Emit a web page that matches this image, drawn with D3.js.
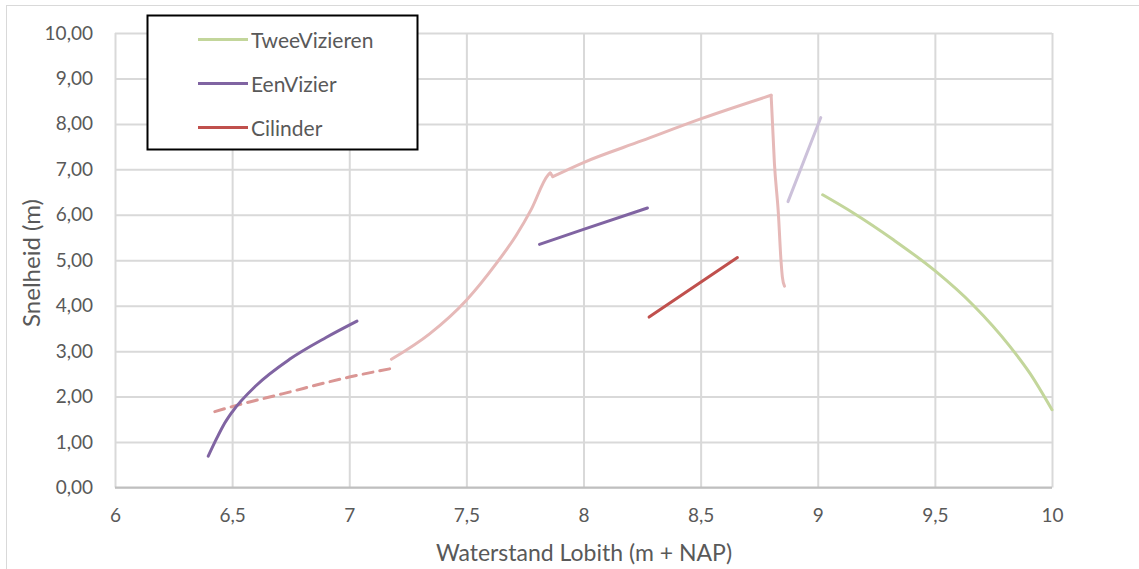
<!DOCTYPE html>
<html>
<head>
<meta charset="utf-8">
<script src="https://cdn.jsdelivr.net/npm/d3@7"></script>
<style>
  body { margin: 0; background: #fff; }
  svg { display: block; }
  text { font-family: Lato, "Open Sans", sans-serif; fill: #595959; }
</style>
</head>
<body>
<svg id="chart" width="1139" height="569"></svg>
<script>
// Axis ticks
const xTicks = [6, 6.5, 7, 7.5, 8, 8.5, 9, 9.5, 10];
const yTicks = [0, 1, 2, 3, 4, 5, 6, 7, 8, 9, 10];

// Series: [waterstand, snelheid]
const tweeVizieren = [
  [9.021, 6.44], [9.152, 6.04], [9.323, 5.45], [9.50, 4.77],
  [9.664, 4.01], [9.821, 3.10], [9.906, 2.51], [10.0, 1.71]
];
const eenVizierLaag = [
  [6.398, 0.69], [6.434, 1.08], [6.462, 1.36], [6.50, 1.66],
  [6.604, 2.25], [6.745, 2.82], [6.901, 3.30], [7.033, 3.66]
];
const eenVizierMidden = [[7.812, 5.35], [8.0, 5.68], [8.273, 6.15]];
const eenVizierHoog = [[8.873, 6.29], [9.013, 8.14]];
const cilinder = [[8.28, 3.75], [8.657, 5.06]];
const cilinderStijgend = [
  [7.18, 2.82], [7.343, 3.38], [7.50, 4.12], [7.628, 4.93],
  [7.713, 5.55], [7.777, 6.12], [7.848, 6.87], [7.858, 6.92]
];
const cilinderKnik = [[7.858, 6.92], [7.869, 6.84]];
const cilinderBoven = [[7.869, 6.84], [8.0, 7.15], [8.25, 7.63], [8.5, 8.11], [8.801, 8.63]];
const cilinderVal = [
  [8.801, 8.63], [8.815, 7.13], [8.832, 6.02], [8.843, 5.00],
  [8.849, 4.63], [8.858, 4.43]
];
const cilinderGestippeld = [[6.426, 1.67], [6.50, 1.78], [6.714, 2.06], [7.0, 2.43], [7.182, 2.62]];

const legendItems = [
  { label: "TweeVizieren", color: "#c3d69b" },
  { label: "EenVizier", color: "#8064a2" },
  { label: "Cilinder", color: "#c0504d" }
];

const svg = d3.select("#chart");

// Chart frame
svg.append("rect")
  .attr("x", 6.5).attr("y", 5.5).attr("width", 1150).attr("height", 580)
  .attr("fill", "#fff").attr("stroke", "#d9d9d9").attr("stroke-width", 1);

const plotLeft = 115, plotRight = 1052, plotTop = 33, plotBottom = 487.5;
const x = d3.scaleLinear().domain([6, 10]).range([plotLeft, plotRight]);
const y = d3.scaleLinear().domain([0, 10]).range([plotBottom, plotTop]);

const comma = s => s.replace(".", ",");

// Horizontal gridlines + y labels
const yAxis = svg.append("g")
  .attr("transform", `translate(${plotLeft},0)`)
  .call(d3.axisLeft(y).tickValues(yTicks).tickSize(-(plotRight - plotLeft)).tickPadding(22)
    .tickFormat(d => comma(d3.format(".2f")(d))));
yAxis.select(".domain").remove();
yAxis.selectAll("line").attr("stroke", "#d9d9d9").attr("stroke-width", 2);
yAxis.selectAll("text").style("font-size", "19px").attr("fill", "#595959");

// Vertical gridlines + x labels
const xAxis = svg.append("g")
  .attr("transform", `translate(0,${plotBottom})`)
  .call(d3.axisBottom(x).tickValues(xTicks).tickSize(-(plotBottom - plotTop)).tickPadding(21)
    .tickFormat(d => comma(String(d))));
xAxis.select(".domain").remove();
xAxis.selectAll("line").attr("stroke", "#d9d9d9").attr("stroke-width", 2);
xAxis.selectAll("text").style("font-size", "19px").attr("fill", "#595959");

// Bottom axis line
svg.append("line")
  .attr("x1", plotLeft).attr("x2", plotRight).attr("y1", plotBottom).attr("y2", plotBottom)
  .attr("stroke", "#bfbfbf").attr("stroke-width", 2);

// Axis titles
svg.append("text")
  .attr("x", 584).attr("y", 552)
  .attr("text-anchor", "middle").attr("dominant-baseline", "central")
  .style("font-size", "23px")
  .text("Waterstand Lobith (m + NAP)");
svg.append("text")
  .attr("transform", `translate(30,263) rotate(-90)`)
  .attr("text-anchor", "middle").attr("dominant-baseline", "central")
  .style("font-size", "24px")
  .text("Snelheid (m)");

// Series lines
const smooth = d3.line().x(d => x(d[0])).y(d => y(d[1])).curve(d3.curveMonotoneX);
const straight = d3.line().x(d => x(d[0])).y(d => y(d[1]));

const series = [
  { data: cilinderGestippeld, color: "#da9694", line: smooth, dash: "10,7" },
  { data: cilinderStijgend, color: "#e6b9b8", line: smooth },
  { data: cilinderKnik, color: "#e6b9b8", line: straight },
  { data: cilinderBoven, color: "#e6b9b8", line: smooth },
  { data: cilinderVal, color: "#e6b9b8", line: smooth },
  { data: eenVizierHoog, color: "#ccc1da", line: straight },
  { data: tweeVizieren, color: "#c3d69b", line: smooth },
  { data: eenVizierLaag, color: "#8064a2", line: smooth },
  { data: eenVizierMidden, color: "#8064a2", line: straight },
  { data: cilinder, color: "#c0504d", line: straight }
];

svg.append("g").selectAll("path")
  .data(series)
  .join("path")
  .attr("d", s => s.line(s.data))
  .attr("fill", "none")
  .attr("stroke", s => s.color)
  .attr("stroke-width", 3)
  .attr("stroke-linejoin", "round")
  .attr("stroke-linecap", "round")
  .attr("stroke-dasharray", s => s.dash || null);

// Legend
const legend = svg.append("g");
legend.append("rect")
  .attr("x", 147.5).attr("y", 15.5).attr("width", 270).attr("height", 134)
  .attr("fill", "#fff").attr("stroke", "#000").attr("stroke-width", 2);
const rows = legend.selectAll("g.item")
  .data(legendItems)
  .join("g")
  .attr("class", "item")
  .attr("transform", (d, i) => `translate(0,${39.5 + i * 44})`);
rows.append("line")
  .attr("x1", 198).attr("x2", 248)
  .attr("stroke", d => d.color).attr("stroke-width", 3);
rows.append("text")
  .attr("x", 251).attr("dominant-baseline", "central")
  .style("font-size", "21px")
  .text(d => d.label);
</script>
</body>
</html>
